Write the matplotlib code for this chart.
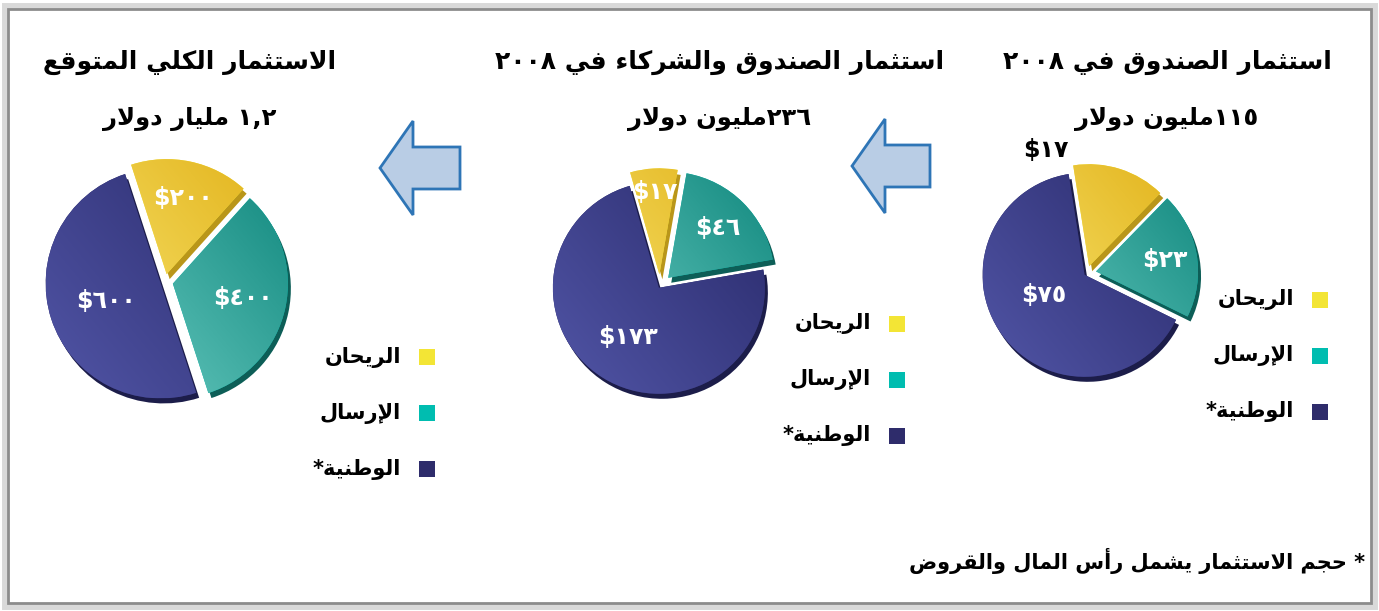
import re
import numpy as np
import matplotlib
matplotlib.use('Agg')
import matplotlib.pyplot as plt
from matplotlib.patches import Polygon, Rectangle, Wedge
from matplotlib.colors import LinearSegmentedColormap

W, H = 1379, 611

# ---------------- data ----------------
categories = ['الريحان', 'الإرسال', 'الوطنية*']
titles = ['الاستثمار الكلي المتوقع',
          'استثمار الصندوق والشركاء في ٢٠٠٨',
          'استثمار الصندوق في ٢٠٠٨']
subtitles = ['١,٢ مليار دولار', '٢٣٦مليون دولار', '١١٥مليون دولار']
values_total = [200, 400, 600]      # expected total investment
values_partners = [17, 46, 173]     # fund + partners 2008
values_fund = [17, 23, 75]          # fund 2008
footnote = '* حجم الاستثمار يشمل رأس المال والقروض'

colors = ['#f3e535', '#00bdb0', '#2e2c6b']
grad = [('#fbec7a', '#e2b21a'), ('#74d3c9', '#12897f'), ('#5155a6', '#2a2b6c')]
side = ['#b9961a', '#0d5e57', '#1c1d4a']


# ---------- minimal arabic shaping (matplotlib has none) ----------
_letters = [chr(c) for c in range(0x0621, 0x063B)] + [chr(c) for c in range(0x0641, 0x064B)]
_counts = [1, 2, 2, 2, 2, 4, 2, 4, 2, 4, 4, 4, 4, 4, 2, 2, 2, 2, 4, 4, 4, 4, 4, 4, 4, 4,
           4, 4, 4, 4, 4, 4, 4, 2, 2, 4]
FORMS = {}
code = 0xFE80
for ch, n in zip(_letters, _counts):
    FORMS[ch] = (code, n)
    code += n
LAMALEF = {'آ': 0xFEF5, 'أ': 0xFEF7, 'إ': 0xFEF9, 'ا': 0xFEFB}


def shape(text):
    items = []
    i = 0
    while i < len(text):
        c = text[i]
        if c == 'ل' and i + 1 < len(text) and text[i + 1] in LAMALEF:
            items.append(('LA', text[i + 1]))
            i += 2
        else:
            items.append(c)
            i += 1

    def is_letter(it):
        return isinstance(it, tuple) or it in FORMS

    def joins_next(it):
        return (not isinstance(it, tuple)) and it in FORMS and FORMS[it][1] == 4

    out = []
    for k, it in enumerate(items):
        prev = items[k - 1] if k > 0 else None
        nxt = items[k + 1] if k + 1 < len(items) else None
        jp = prev is not None and joins_next(prev) and is_letter(it)
        if isinstance(it, tuple):
            out.append(chr(LAMALEF[it[1]] + (1 if jp else 0)))
            continue
        if it not in FORMS:
            out.append(it)
            continue
        base, n = FORMS[it]
        jn = n == 4 and nxt is not None and is_letter(nxt)
        if n == 1:
            f = 0
        elif jp and jn:
            f = 3
        elif jn:
            f = 2
        elif jp:
            f = 1
        else:
            f = 0
        out.append(chr(base + f))
    s = ''.join(out)
    tokens = re.findall(r'[0-9٠-٩](?:[0-9٠-٩,٫.]*[0-9٠-٩])?|.', s)
    return ''.join(reversed(tokens))


def money(v):
    return '$' + str(v).translate(str.maketrans('0123456789', '٠١٢٣٤٥٦٧٨٩'))


fig = plt.figure(figsize=(W / 100, H / 100), dpi=100)
ax = fig.add_axes([0, 0, 1, 1])


def Y(y):
    return H - y


def draw_pie(values, cx, cy, r, start, explode, lab_pos):
    # pie explode is in data units, so scale by radius (pixels here)
    wedges, _ = ax.pie(values, colors=colors, startangle=start, counterclock=False,
                       explode=[e * r for e in explode], center=(cx, Y(cy)), radius=r,
                       wedgeprops=dict(linewidth=0, zorder=3))
    for k, w in enumerate(wedges):
        wx, wy = w.center
        sh = Wedge((wx + 3, wy - 5), w.r, w.theta1, w.theta2, color=side[k], lw=0, zorder=2)
        ax.add_patch(sh)
        cmap = LinearSegmentedColormap.from_list('g%d' % k, grad[k])
        gx, gy = np.meshgrid(np.linspace(0, 1, 60), np.linspace(0, 1, 60))
        g = 0.55 * gx + 0.45 * gy
        im = ax.imshow(g, cmap=cmap, extent=[wx - r, wx + r, wy + r, wy - r],
                       origin='upper', zorder=4, interpolation='bilinear')
        im.set_clip_path(w)
        mid = np.deg2rad((w.theta1 + w.theta2) / 2)
        da, fr, col = lab_pos[k]
        mid = mid + np.deg2rad(da)
        ax.text(wx + fr * r * np.cos(mid), wy + fr * r * np.sin(mid), money(values[k]),
                color=col, fontsize=17, fontweight='bold', ha='center', va='center', zorder=6)


draw_pie(values_fund, 1087, 273, 102, 99, (0.07, 0.09, 0.03),
         [(38, 1.22, 'black'), (0, 0.68, 'white'), (-10, 0.45, 'white')])
draw_pie(values_partners, 660, 286, 106, 106, (0.11, 0.11, 0.02),
         [(0, 0.78, 'white'), (0, 0.66, 'white'), (0, 0.55, 'white')])
draw_pie(values_total, 165, 282, 115, 108, (0.07, 0.07, 0.04),
         [(0, 0.68, 'white'), (0, 0.62, 'white'), (0, 0.5, 'white')])

# titles
title_x = [190, 720, 1167]
for k in range(3):
    ax.text(title_x[k], Y(62), shape(titles[k]), fontsize=18, fontweight='bold',
            ha='center', va='center', zorder=6)
    ax.text(title_x[k], Y(119), shape(subtitles[k]), fontsize=17.5, fontweight='bold',
            ha='center', va='center', zorder=6)

# legends
legend_pos = [(427, 357), (897, 324), (1320, 300)]
for lx, ly in legend_pos:
    for k, name in enumerate(categories):
        yy = Y(ly + k * 56)
        ax.add_patch(Rectangle((lx - 8, yy - 8), 16, 16, color=colors[k], lw=0, zorder=6))
        ax.text(lx - 26, yy, shape(name), fontsize=15, fontweight='bold',
                ha='right', va='center', zorder=6)

# arrows
for tip_x, tip_y, length in [(380, 168, 80), (852, 166, 78)]:
    hl, hh, sh_ = 33, 47, 21
    ty = Y(tip_y)
    pts = [(tip_x, ty), (tip_x + hl, ty + hh), (tip_x + hl, ty + sh_), (tip_x + length, ty + sh_),
           (tip_x + length, ty - sh_), (tip_x + hl, ty - sh_), (tip_x + hl, ty - hh)]
    ax.add_patch(Polygon(pts, closed=True, facecolor='#b9cde5', edgecolor='#2e75b6',
                         lw=2, zorder=5))

ax.text(1365, Y(561), shape(footnote), fontsize=15, fontweight='bold',
        ha='right', va='center', zorder=6)

# frame
ax.add_patch(Rectangle((5, Y(606)), W - 10, 600, fill=False, edgecolor='#d9d9d9', lw=5, zorder=1))
ax.add_patch(Rectangle((8, Y(603)), W - 16, 594, fill=False, edgecolor='#8c8c8c', lw=2, zorder=7))

ax.set_xlim(0, W)
ax.set_ylim(0, H)
ax.set_aspect('auto')
ax.axis('off')
fig.savefig('out.png', dpi=100)
